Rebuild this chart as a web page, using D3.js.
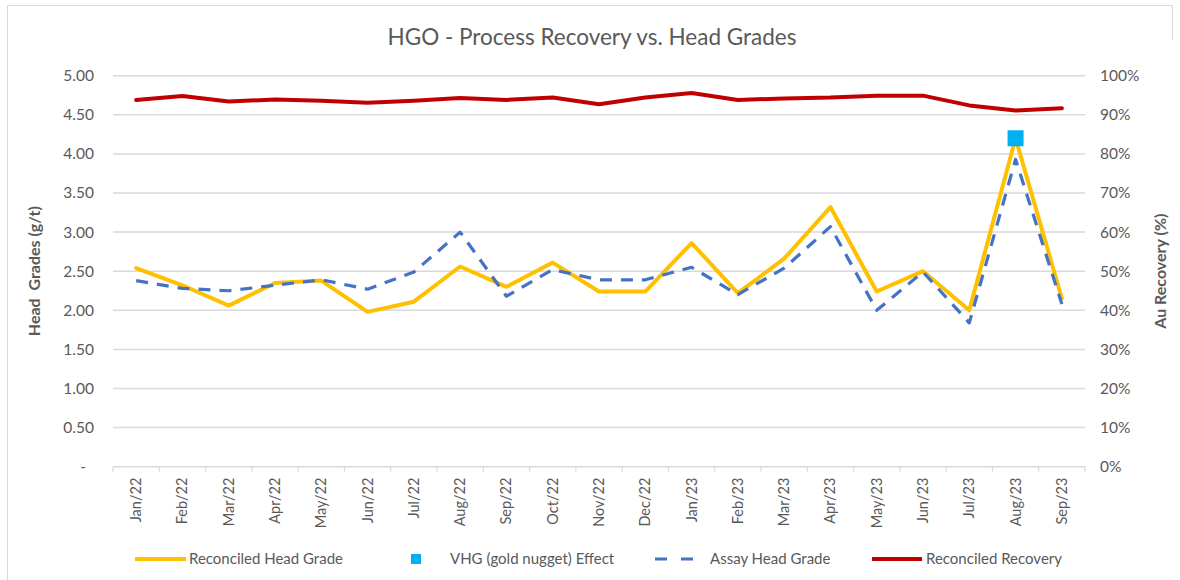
<!DOCTYPE html>
<html>
<head>
<meta charset="utf-8">
<script src="https://cdn.jsdelivr.net/npm/d3@7"></script>
<style>
  html, body { margin: 0; padding: 0; background: #ffffff; }
  svg { display: block; font-family: Lato, "Open Sans", sans-serif; }
</style>
</head>
<body>
<svg id="chart" width="1180" height="580"></svg>
<script>
// Monthly categories
const months = ["Jan/22","Feb/22","Mar/22","Apr/22","May/22","Jun/22","Jul/22","Aug/22","Sep/22","Oct/22","Nov/22","Dec/22",
                "Jan/23","Feb/23","Mar/23","Apr/23","May/23","Jun/23","Jul/23","Aug/23","Sep/23"];

// Head grades (g/t)
const reconciledHeadGrade = [2.54, 2.32, 2.06, 2.35, 2.38, 1.98, 2.11, 2.56, 2.30, 2.61, 2.24, 2.24,
                             2.86, 2.22, 2.66, 3.32, 2.24, 2.50, 2.00, 4.20, 2.15];
const assayHeadGrade      = [2.38, 2.28, 2.25, 2.32, 2.39, 2.27, 2.49, 3.00, 2.18, 2.52, 2.39, 2.39,
                             2.55, 2.20, 2.54, 3.07, 2.00, 2.49, 1.84, 3.93, 2.08];
// Very high grade (gold nugget) effect, only in Aug/23
const vhgEffect = [null, null, null, null, null, null, null, null, null, null, null, null,
                   null, null, null, null, null, null, null, 4.20, null];

// Au recovery (fraction)
const reconciledRecovery = [0.938, 0.948, 0.934, 0.939, 0.936, 0.931, 0.936, 0.943, 0.938, 0.944, 0.927, 0.944,
                            0.956, 0.938, 0.942, 0.944, 0.949, 0.949, 0.924, 0.911, 0.917];

// Axis ticks
const gradeTicks = [0, 0.5, 1, 1.5, 2, 2.5, 3, 3.5, 4, 4.5, 5];
const recoveryTicks = [0, 0.1, 0.2, 0.3, 0.4, 0.5, 0.6, 0.7, 0.8, 0.9, 1.0];

const svg = d3.select("#chart");
const textColor = "#595959";
const gridColor = "#d9d9d9";

const plot = { left: 113, right: 1085, top: 75.7, bottom: 466.7 };

const x = d3.scaleBand().domain(months).range([plot.left, plot.right]).padding(0);
const cx = d => x(d) + x.bandwidth() / 2;
const yL = d3.scaleLinear().domain([0, 5]).range([plot.bottom, plot.top]);
const yR = d3.scaleLinear().domain([0, 1]).range([plot.bottom, plot.top]);

// Outer frame (top and left edges)
svg.append("path")
  .attr("d", "M7.5,580 L7.5,5.5 L1172.5,5.5 L1172.5,40")
  .attr("fill", "none").attr("stroke", gridColor).attr("stroke-width", 1);

// Title
svg.append("text")
  .attr("x", 592).attr("y", 45)
  .attr("text-anchor", "middle")
  .attr("font-size", 22.5).attr("fill", textColor)
  .text("HGO - Process Recovery vs. Head Grades");

// Horizontal gridlines
svg.append("g").selectAll("line")
  .data(gradeTicks.filter(d => d > 0))
  .join("line")
  .attr("x1", plot.left).attr("x2", plot.right)
  .attr("y1", d => yL(d)).attr("y2", d => yL(d))
  .attr("stroke", gridColor).attr("stroke-width", 1.5);

// Left axis
const leftAxis = svg.append("g")
  .attr("transform", `translate(${plot.left},0)`)
  .call(d3.axisLeft(yL).tickValues(gradeTicks).tickSize(0).tickPadding(19)
        .tickFormat(d => d === 0 ? "-" : d3.format(".2f")(d)));
leftAxis.select(".domain").remove();
leftAxis.selectAll("text")
  .attr("font-size", 15.5).attr("fill", textColor).attr("font-family", "Lato, sans-serif")
  .attr("dx", d => d === 0 ? -8 : 0);

// Right axis
const rightAxis = svg.append("g")
  .attr("transform", `translate(${plot.right},0)`)
  .call(d3.axisRight(yR).tickValues(recoveryTicks).tickSize(0).tickPadding(15)
        .tickFormat(d3.format(".0%")));
rightAxis.select(".domain").remove();
rightAxis.selectAll("text")
  .attr("font-size", 15.5).attr("fill", textColor).attr("font-family", "Lato, sans-serif");

// Bottom axis line with ticks between categories
svg.append("line")
  .attr("x1", plot.left).attr("x2", plot.right)
  .attr("y1", plot.bottom).attr("y2", plot.bottom)
  .attr("stroke", gridColor).attr("stroke-width", 1.5);
svg.append("g").selectAll("line")
  .data(d3.range(months.length + 1))
  .join("line")
  .attr("x1", i => plot.left + i * x.step()).attr("x2", i => plot.left + i * x.step())
  .attr("y1", plot.bottom).attr("y2", plot.bottom + 5)
  .attr("stroke", gridColor).attr("stroke-width", 1.2);

// Category labels, rotated
svg.append("g").selectAll("text")
  .data(months)
  .join("text")
  .attr("transform", d => `translate(${cx(d) + 5},${plot.bottom + 11}) rotate(-90)`)
  .attr("text-anchor", "end")
  .attr("font-size", 14.5).attr("fill", textColor)
  .text(d => d);

// Axis titles
svg.append("text")
  .attr("transform", `translate(40,${(plot.top + plot.bottom) / 2}) rotate(-90)`)
  .attr("text-anchor", "middle").attr("font-size", 16).attr("font-weight", "bold")
  .attr("fill", textColor).style("white-space", "pre")
  .text("Head  Grades (g/t)");
svg.append("text")
  .attr("transform", `translate(1166,${(plot.top + plot.bottom) / 2}) rotate(-90)`)
  .attr("text-anchor", "middle").attr("font-size", 16).attr("font-weight", "bold")
  .attr("fill", textColor)
  .text("Au Recovery (%)");

// Series
const gradeLine = d3.line().x((d, i) => cx(months[i])).y(d => yL(d));
const recLine = d3.line().x((d, i) => cx(months[i])).y(d => yR(d));

svg.append("path").datum(reconciledHeadGrade)
  .attr("d", gradeLine).attr("fill", "none")
  .attr("stroke", "#FFC000").attr("stroke-width", 4)
  .attr("stroke-linejoin", "round").attr("stroke-linecap", "round");

svg.append("path").datum(assayHeadGrade)
  .attr("d", gradeLine).attr("fill", "none")
  .attr("stroke", "#4472C4").attr("stroke-width", 3.2)
  .attr("stroke-dasharray", "12,9")
  .attr("stroke-linejoin", "round");

svg.append("path").datum(reconciledRecovery)
  .attr("d", recLine).attr("fill", "none")
  .attr("stroke", "#C00000").attr("stroke-width", 4)
  .attr("stroke-linejoin", "round").attr("stroke-linecap", "round");

const vhgPts = vhgEffect.map((v, i) => ({ m: months[i], v })).filter(d => d.v !== null);
svg.append("g").selectAll("rect")
  .data(vhgPts)
  .join("rect")
  .attr("x", d => cx(d.m) - 8).attr("y", d => yL(d.v) - 8)
  .attr("width", 16).attr("height", 16)
  .attr("fill", "#00B0F0");

// Legend
const legY = 559;
const legend = svg.append("g").attr("font-size", 15).attr("fill", textColor);
legend.append("line").attr("x1", 135).attr("x2", 186).attr("y1", legY).attr("y2", legY)
  .attr("stroke", "#FFC000").attr("stroke-width", 4);
legend.append("text").attr("x", 189).attr("y", legY + 5).text("Reconciled Head Grade");

legend.append("rect").attr("x", 411).attr("y", legY - 5).attr("width", 10).attr("height", 10)
  .attr("fill", "#00B0F0");
legend.append("text").attr("x", 450).attr("y", legY + 5).text("VHG (gold nugget) Effect");

legend.append("line").attr("x1", 655).attr("x2", 693).attr("y1", legY).attr("y2", legY)
  .attr("stroke", "#4472C4").attr("stroke-width", 3.2).attr("stroke-dasharray", "12,14");
legend.append("text").attr("x", 710).attr("y", legY + 5).text("Assay Head Grade");

legend.append("line").attr("x1", 872).attr("x2", 922).attr("y1", legY).attr("y2", legY)
  .attr("stroke", "#C00000").attr("stroke-width", 4);
legend.append("text").attr("x", 926).attr("y", legY + 5).text("Reconciled Recovery");
</script>
</body>
</html>
